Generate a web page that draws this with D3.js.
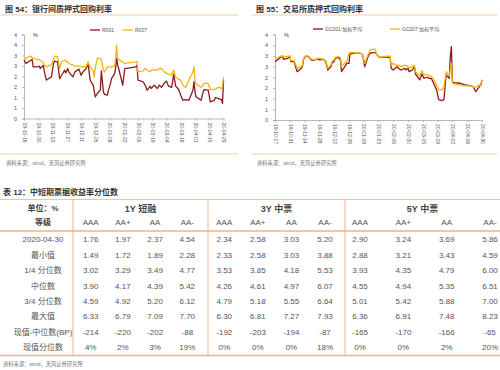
<!DOCTYPE html>
<html>
<head>
<meta charset="utf-8">
<script src="https://cdn.jsdelivr.net/npm/d3@7"></script>
<style>
body { margin: 0; background: #fff; }
svg { display: block; font-family: "Liberation Sans", "Noto Sans CJK SC", sans-serif; }
</style>
</head>
<body>
<svg id="page" width="500" height="370"></svg>
<script>
// ---- data: left chart (interbank repo) ----
const leftDates = ["19-10-16","19-10-18","19-10-22","19-10-24","19-10-25","19-10-29","19-10-31",
  "19-11-01","19-11-04","19-11-05","19-11-07","19-11-11","19-11-12","19-11-14","19-11-15","19-11-18","19-11-20","19-11-22","19-11-25","19-11-26","19-11-28","19-11-29",
  "19-12-03","19-12-05","19-12-09","19-12-11","19-12-13","19-12-16","19-12-18","19-12-19","19-12-20","19-12-23","19-12-24","19-12-25","19-12-27","19-12-30","19-12-31",
  "20-01-02","20-01-03","20-01-06","20-01-07","20-01-09","20-01-10","20-01-13","20-01-14","20-01-15","20-01-16","20-01-17","20-01-21","20-01-23",
  "20-02-03","20-02-04","20-02-05","20-02-10","20-02-12","20-02-14","20-02-17","20-02-18","20-02-21","20-02-24","20-02-26","20-02-28",
  "20-03-02","20-03-04","20-03-06","20-03-09","20-03-10","20-03-11","20-03-13","20-03-16","20-03-18","20-03-20","20-03-23","20-03-26","20-03-30","20-03-31",
  "20-04-01","20-04-02","20-04-07","20-04-09","20-04-10","20-04-14","20-04-16","20-04-20","20-04-21","20-04-24","20-04-27","20-04-28","20-04-29"];
const r001 = [2.78,2.62,2.75,2.81,2.46,2.46,2.49,
  2.38,2.54,2.22,1.83,1.95,1.98,2.62,2.73,2.70,1.90,2.06,2.30,2.17,2.38,2.22,
  1.98,2.22,2.35,2.06,2.22,2.38,2.59,2.22,1.83,1.59,1.30,1.03,1.19,1.35,2.27,
  1.27,1.15,1.11,1.35,1.67,1.90,2.14,2.40,2.86,2.54,2.38,1.59,2.38,
  2.46,2.54,1.83,1.75,1.59,1.35,1.54,1.43,1.59,1.43,1.59,1.48,
  1.70,1.78,1.54,1.48,1.75,2.11,1.54,1.38,1.11,0.87,0.90,0.87,1.35,1.75,
  1.27,1.03,0.87,1.27,1.38,1.35,0.79,0.87,1.00,0.95,0.90,0.71,1.83];
const r007 = [2.81,2.86,2.97,2.90,2.86,2.81,2.80,
  2.78,2.65,2.54,2.46,2.54,2.60,2.81,2.97,2.94,2.38,2.70,2.78,2.74,2.70,2.62,
  2.54,2.49,2.49,2.46,2.47,2.46,2.70,2.54,2.45,2.30,1.98,2.40,2.86,2.86,2.80,
  2.30,2.22,2.46,2.46,2.46,2.46,2.50,2.86,3.49,2.86,2.80,2.70,2.62,
  2.70,2.72,2.22,2.27,2.38,2.30,2.22,2.30,2.33,2.30,2.38,2.38,
  2.22,2.15,2.11,2.06,2.22,2.30,1.98,1.86,1.83,1.59,1.48,1.83,2.22,2.46,
  1.83,1.65,1.48,1.59,1.67,1.67,1.38,1.38,1.40,1.48,1.43,1.51,1.98];
const leftTicks = ["19-10-16","19-10-30","19-11-13","19-11-27","19-12-11","19-12-25","20-01-08","20-01-22",
  "20-02-05","20-02-19","20-03-04","20-03-18","20-04-01","20-04-15","20-04-29"];

// ---- data: right chart (exchange repo) ----
const rightDates = ["19-10-17","19-10-21","19-10-24","19-10-25","19-10-29","19-10-31",
  "19-11-01","19-11-04","19-11-07","19-11-11","19-11-12","19-11-13","19-11-15","19-11-18","19-11-21","19-11-25","19-11-26","19-11-28",
  "19-12-02","19-12-03","19-12-04","19-12-06","19-12-09","19-12-10","19-12-12","19-12-13","19-12-16","19-12-18","19-12-19","19-12-23","19-12-24","19-12-26","19-12-27","19-12-30",
  "20-01-02","20-01-06","20-01-08","20-01-10","20-01-13","20-01-15","20-01-17","20-01-20","20-01-21","20-01-23",
  "20-02-03","20-02-04","20-02-06","20-02-10","20-02-11","20-02-13","20-02-17","20-02-18","20-02-20","20-02-21","20-02-24","20-02-26","20-02-27",
  "20-03-02","20-03-03","20-03-04","20-03-06","20-03-09","20-03-11","20-03-13","20-03-18","20-03-20","20-03-23","20-03-25","20-03-27","20-03-30","20-03-31",
  "20-04-01","20-04-02","20-04-03","20-04-09","20-04-14","20-04-20","20-04-22","20-04-24","20-04-27","20-04-28","20-04-29","20-04-30"];
const gc001 = [2.73,2.88,2.99,2.84,2.88,2.99,
  2.73,2.73,2.26,2.42,2.50,2.84,2.99,2.96,2.78,2.84,2.88,2.81,
  2.84,2.78,2.73,2.34,2.50,2.68,2.73,2.88,2.93,2.81,2.26,2.57,2.65,2.65,3.09,3.12,
  3.15,3.12,3.04,2.50,2.96,3.12,3.15,3.15,3.09,2.96,
  2.93,2.42,2.34,2.50,2.42,2.34,2.42,2.34,2.42,2.26,2.34,2.50,2.16,
  1.88,2.00,2.16,1.95,2.00,1.95,1.95,1.41,0.95,0.91,0.95,2.11,1.95,2.96,
  3.43,1.80,1.75,1.72,1.64,1.60,1.53,1.33,1.53,1.60,1.64,1.88];
const gc007 = [2.84,2.96,2.99,2.97,2.96,2.99,
  2.78,2.78,2.42,2.50,2.57,2.88,2.99,2.99,2.81,2.85,2.88,2.88,
  2.84,2.80,2.78,2.42,2.57,2.76,2.81,2.93,2.96,2.93,2.50,2.71,2.73,3.12,3.15,3.15,
  3.15,3.12,3.04,2.65,3.04,3.27,3.30,3.30,3.09,2.96,
  2.99,2.57,2.65,2.53,2.57,2.50,2.57,2.55,2.50,2.42,2.50,2.57,2.26,
  2.06,2.16,2.31,2.11,2.11,2.06,2.06,1.64,1.41,1.41,1.53,2.26,2.06,2.34,
  2.65,1.72,1.69,1.64,1.60,1.60,1.53,1.53,1.64,1.60,1.72,1.88];
const rightTicks = ["19-10-17","19-10-31","19-11-14","19-11-28","19-12-12","19-12-26","20-01-09","20-01-23",
  "20-02-06","20-02-20","20-03-05","20-03-19","20-04-02","20-04-16","20-04-30"];

const yTicks = [0, 0.5, 1, 1.5, 2, 2.5, 3, 3.5, 4];

// ---- data: table ----
const groups = ["1Y 短融", "3Y 中票", "5Y 中票"];
const grades = ["AAA", "AA+", "AA", "AA-"];
const rowLabels = ["2020-04-30", "最小值", "1/4 分位数", "中位数", "3/4 分位数", "最大值", "现值-中位数(BP)", "现值分位数"];
const rowValues = [
  ["1.76","1.97","2.37","4.54","2.34","2.58","3.03","5.20","2.90","3.24","3.69","5.86"],
  ["1.49","1.72","1.89","2.28","2.33","2.58","3.03","3.88","2.88","3.21","3.43","4.59"],
  ["3.02","3.29","3.49","4.77","3.53","3.85","4.18","5.53","3.93","4.35","4.79","6.00"],
  ["3.90","4.17","4.39","5.42","4.26","4.61","4.97","6.07","4.55","4.94","5.35","6.51"],
  ["4.59","4.92","5.20","6.12","4.79","5.18","5.55","6.64","5.01","5.42","5.88","7.00"],
  ["6.33","6.79","7.09","7.70","6.30","6.81","7.27","7.93","6.36","6.91","7.48","8.23"],
  ["-214","-220","-202","-88","-192","-203","-194","-87","-165","-170","-166","-65"],
  ["4%","2%","3%","19%","0%","0%","0%","18%","0%","0%","2%","20%"]
];

const parse = d3.timeParse("%y-%m-%d");
const fmt = d3.timeFormat("%y-%m-%d");
const svg = d3.select("#page");
const darkRed = "#8b1a1a", gold = "#f5b50f", ruleCol = "#f8cfa4", tableCol = "#f4b183";

function drawPanel(cfg) {
    let g = svg.append("g");

    g.append("text")
        .attr("x", cfg.titleX).attr("y", 12)
        .attr("font-size", 8).attr("font-weight", "bold").attr("fill", "#333")
        .text(cfg.title);
    g.append("line")
        .attr("x1", cfg.ruleX1).attr("x2", cfg.ruleX2).attr("y1", 15).attr("y2", 15)
        .attr("stroke", ruleCol).attr("stroke-width", 1.2);
    g.append("line")
        .attr("x1", cfg.ruleX1).attr("x2", cfg.ruleX2).attr("y1", 154).attr("y2", 154)
        .attr("stroke", ruleCol).attr("stroke-width", 1.2);
    g.append("text")
        .attr("x", cfg.titleX + 1).attr("y", 165)
        .attr("font-size", 5.3).attr("fill", "#777")
        .text("资料来源：wind，天风证券研究所");

    let x = d3.scaleTime()
        .domain(d3.extent(cfg.ticks, parse))
        .range([cfg.left, cfg.right]);
    let y = d3.scaleLinear().domain([0, 4]).range([cfg.bottom, cfg.top]);

    let yAxis = g.append("g")
        .attr("transform", `translate(${cfg.left},0)`)
        .call(d3.axisLeft(y).tickValues(yTicks).tickSize(2).tickPadding(5).tickFormat(d => Math.round(d)));
    let xAxis = g.append("g")
        .attr("transform", `translate(0,${cfg.bottom})`)
        .call(d3.axisBottom(x).tickValues(cfg.ticks.map(parse)).tickSize(2).tickFormat(fmt));
    [yAxis, xAxis].forEach(a => {
        a.select(".domain").attr("stroke", "#a6a6a6").attr("stroke-width", 0.8);
        a.selectAll(".tick line").attr("stroke", "#a6a6a6").attr("stroke-width", 0.8);
        a.selectAll("text").attr("fill", "#555").attr("font-family", "Liberation Sans");
    });
    yAxis.selectAll("text").attr("font-size", 5.5);
    xAxis.selectAll("text")
        .attr("font-size", 5)
        .attr("transform", "rotate(90)")
        .attr("text-anchor", "start")
        .attr("x", 4).attr("y", 0).attr("dy", "0.35em");

    g.append("text")
        .attr("x", cfg.left + 9).attr("y", cfg.top + 2)
        .attr("font-size", 5.5).attr("fill", "#444")
        .text("%");

    cfg.series.forEach(s => {
        let pts = cfg.dates.map((d, i) => [parse(d), s.values[i]]);
        g.append("path")
            .datum(pts)
            .attr("fill", "none")
            .attr("stroke", s.color)
            .attr("stroke-width", 1.3)
            .attr("stroke-linejoin", "round")
            .attr("d", d3.line().x(d => x(d[0])).y(d => y(d[1])));

        g.append("line")
            .attr("x1", s.legendX).attr("x2", s.legendX + 10)
            .attr("y1", cfg.legendY).attr("y2", cfg.legendY)
            .attr("stroke", s.color).attr("stroke-width", 1.3);
        g.append("text")
            .attr("x", s.legendX + 12).attr("y", cfg.legendY)
            .attr("dy", "0.35em")
            .attr("font-size", 5).attr("fill", "#555")
            .text(s.name);
    });
}

drawPanel({
    title: "图 54：银行间质押式回购利率",
    titleX: 5, ruleX1: 0, ruleX2: 238,
    left: 24, right: 223.5, top: 34.5, bottom: 118.5,
    ticks: leftTicks, dates: leftDates, legendY: 30,
    series: [
        {name: "R001", values: r001, color: darkRed, legendX: 90},
        {name: "R007", values: r007, color: gold, legendX: 123}
    ]
});
drawPanel({
    title: "图 55：交易所质押式回购利率",
    titleX: 256, ruleX1: 252, ruleX2: 497,
    left: 275, right: 482, top: 34.5, bottom: 120,
    ticks: rightTicks, dates: rightDates, legendY: 29,
    series: [
        {name: "GC001:加权平均", values: gc001, color: darkRed, legendX: 313},
        {name: "GC007:加权平均", values: gc007, color: gold, legendX: 390}
    ]
});

// ---- table ----
let t = svg.append("g");
t.append("text")
    .attr("x", 3).attr("y", 194.5)
    .attr("font-size", 8).attr("font-weight", "bold").attr("fill", "#333")
    .text("表 12：中短期票据收益率分位数");

let groupBounds = [[73, 208], [208, 345], [345, 500]];
let colRanges = [[90.7, 187.3], [224.3, 325], [360, 490]];
let colX = [];
groups.forEach((name, gi) => {
    let sx = d3.scalePoint().domain(grades).range(colRanges[gi]);
    grades.forEach(gr => colX.push(sx(gr)));
    t.append("text")
        .attr("x", (groupBounds[gi][0] + groupBounds[gi][1]) / 2).attr("y", 208.5)
        .attr("dy", "0.35em").attr("text-anchor", "middle")
        .attr("font-size", 9).attr("font-weight", "bold").attr("fill", "#444")
        .text(name);
});

let rowY = d3.scalePoint().domain(d3.range(rowLabels.length)).range([239.5, 347.5]);
let labelX = 43;

t.append("text").attr("x", labelX).attr("y", 208.5).attr("dy", "0.35em")
    .attr("text-anchor", "middle").attr("font-size", 8).attr("font-weight", "bold").attr("fill", "#444")
    .text("单位：%");
t.append("text").attr("x", labelX).attr("y", 222).attr("dy", "0.35em")
    .attr("text-anchor", "middle").attr("font-size", 8).attr("font-weight", "bold").attr("fill", "#444")
    .text("等级");

t.selectAll("text.grade")
    .data(colX)
    .enter().append("text")
    .attr("class", "grade")
    .attr("x", d => d).attr("y", 222).attr("dy", "0.35em")
    .attr("text-anchor", "middle").attr("font-size", 8).attr("fill", "#555")
    .text((d, i) => grades[i % 4]);

rowLabels.forEach((lab, ri) => {
    t.append("text")
        .attr("x", labelX).attr("y", rowY(ri)).attr("dy", "0.35em")
        .attr("text-anchor", "middle").attr("font-size", 8).attr("fill", "#555")
        .text(lab);
    t.selectAll(null)
        .data(rowValues[ri])
        .enter().append("text")
        .attr("x", (d, i) => colX[i]).attr("y", rowY(ri)).attr("dy", "0.35em")
        .attr("text-anchor", "middle").attr("font-size", 8).attr("fill", "#555")
        .text(d => d);
});

// table rules
t.append("line").attr("x1", 0).attr("x2", 500).attr("y1", 199.5).attr("y2", 199.5)
    .attr("stroke", tableCol).attr("stroke-width", 0.8);
t.append("line").attr("x1", 0).attr("x2", 500).attr("y1", 231).attr("y2", 231)
    .attr("stroke", tableCol).attr("stroke-width", 1.3);
t.append("line").attr("x1", 0).attr("x2", 500).attr("y1", 355.5).attr("y2", 355.5)
    .attr("stroke", tableCol).attr("stroke-width", 1.3);
[73, 208, 345].forEach(xv => {
    t.append("line").attr("x1", xv).attr("x2", xv).attr("y1", 199.5).attr("y2", 355.5)
        .attr("stroke", tableCol).attr("stroke-width", 1);
});
t.append("text")
    .attr("x", 3).attr("y", 366)
    .attr("font-size", 5.3).attr("fill", "#777")
    .text("资料来源：wind，天风证券研究所");
</script>
</body>
</html>
